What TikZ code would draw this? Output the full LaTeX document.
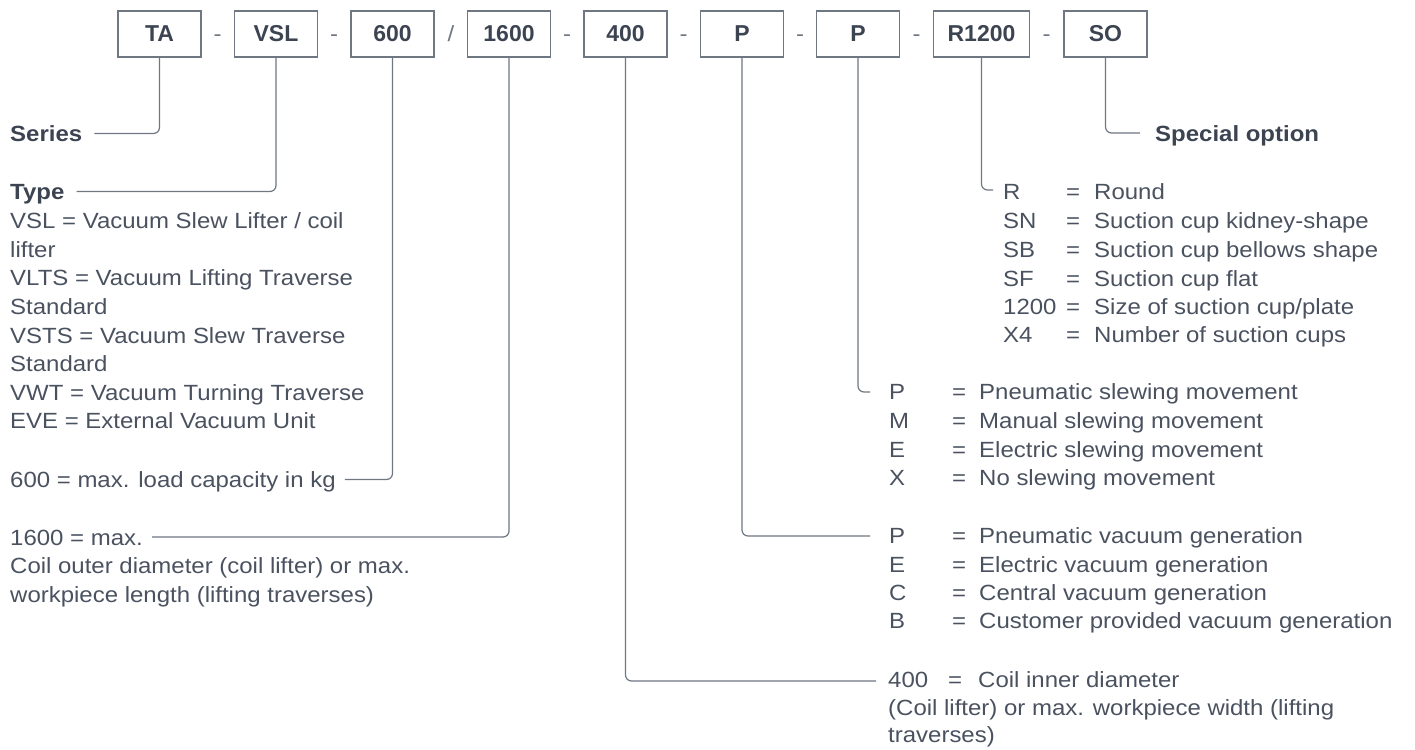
\documentclass[tikz,border=0pt]{standalone}
\usepackage{fontspec}
\setmainfont{Liberation Sans}[FakeStretch=1.09]
\newfontfamily\boxfont{Liberation Sans}
\definecolor{txt}{HTML}{4A5260}
\definecolor{head}{HTML}{3C4452}
\definecolor{lncol}{HTML}{6F7782}
\begin{document}
\begin{tikzpicture}[x=1pt,y=-1pt,
  codebox/.style={draw=lncol,line width=1.3pt,minimum width=83pt,minimum height=46pt,inner sep=0pt,
    font=\boxfont\fontsize{23}{23}\selectfont\bfseries,text=head},
  sep/.style={font=\fontsize{22}{22}\selectfont,text=lncol,inner sep=0pt,anchor=base},
  body/.style={font=\fontsize{22}{22}\selectfont,text=txt,inner sep=0pt,anchor=base west},
  heading/.style={font=\fontsize{22}{22}\selectfont\bfseries,text=head,inner sep=0pt,anchor=base west},
  conn/.style={draw=lncol,line width=1.2pt,rounded corners=6pt}]
\useasboundingbox (0,0) rectangle (1415,749);

% code boxes
\node[codebox] (bta)   at (159.5,34) {TA};
\node[codebox] (bvsl)  at (276,34)   {VSL};
\node[codebox] (bload) at (392.5,34) {600};
\node[codebox] (blen)  at (509,34)   {1600};
\node[codebox] (bwid)  at (625.5,34) {400};
\node[codebox] (bvgen) at (742,34)   {P};
\node[codebox] (bslew) at (858,34)   {P};
\node[codebox,minimum width=96pt] (bcup) at (981.5,34) {R1200};
\node[codebox] (bso)   at (1105.5,34) {SO};

% separators
\node[sep] (s1) at (217.5,42) {-};
\node[sep] (s2) at (334,42) {-};
\node[sep] (s3) at (451,42) {/};
\node[sep] (s4) at (567,42) {-};
\node[sep] (s5) at (683.5,42) {-};
\node[sep] (s6) at (800,42) {-};
\node[sep] (s7) at (916.5,42) {-};
\node[sep] (s8) at (1046.5,42) {-};

% left texts
\node[heading] (series) at (10,142) {Series};
\node[heading] (type) at (10,199) {Type};
\node[body] (t1) at (10,228) {VSL = Vacuum Slew Lifter / coil};
\node[body] (t2) at (10,257) {lifter};
\node[body] (t3) at (10,285) {VLTS = Vacuum Lifting Traverse};
\node[body] (t4) at (10,314) {Standard};
\node[body] (t5) at (10,343) {VSTS = Vacuum Slew Traverse};
\node[body] (t6) at (10,371) {Standard};
\node[body] (t7) at (10,400) {VWT = Vacuum Turning Traverse};
\node[body] (t8) at (10,428) {EVE = External Vacuum Unit};
\node[body] (cap) at (10,487) {600 = max. load capacity in kg};
\node[body] (od1) at (10,545) {1600 = max.};
\node[body] (od2) at (10,573) {Coil outer diameter (coil lifter) or max.};
\node[body] (od3) at (10,602) {workpiece length (lifting traverses)};

% right texts
\node[heading] (special) at (1155,142) {Special option};

\newcommand\coderow[6]{%
  \node[body] (#1c) at (#2,#4) {#5};
  \node[body] (#1e) at (#2+63,#4) {=};
  \node[body] (#1d) at (#3,#4) {#6};}
\coderow{ra}{1003}{1094}{199}{R}{Round}
\coderow{rb}{1003}{1094}{228}{SN}{Suction cup kidney-shape}
\coderow{rc}{1003}{1094}{257}{SB}{Suction cup bellows shape}
\coderow{rd}{1003}{1094}{286}{SF}{Suction cup flat}
\coderow{re}{1003}{1094}{314}{1200}{Size of suction cup/plate}
\coderow{rf}{1003}{1094}{342}{X4}{Number of suction cups}

\coderow{sa}{889}{979}{399}{P}{Pneumatic slewing movement}
\coderow{sb}{889}{979}{428}{M}{Manual slewing movement}
\coderow{sc}{889}{979}{457}{E}{Electric slewing movement}
\coderow{sd}{889}{979}{485}{X}{No slewing movement}

\coderow{va}{889}{979}{543}{P}{Pneumatic vacuum generation}
\coderow{vb}{889}{979}{572}{E}{Electric vacuum generation}
\coderow{vc}{889}{979}{600}{C}{Central vacuum generation}
\coderow{vd}{889}{979}{628}{B}{Customer provided vacuum generation}

\node[body] (wa) at (888,687) {400};
\node[body] (we) at (948,687) {=};
\node[body] (wd) at (978,687) {Coil inner diameter};
\node[body] (wl2) at (888,715) {(Coil lifter) or max. workpiece width (lifting};
\node[body] (wl3) at (888,742) {traverses)};

% connectors
\draw[conn] (bta.south) |- ([xshift=12pt,yshift=8.5pt]series.base east);
\draw[conn] (bvsl.south) |- ([xshift=12pt,yshift=7.5pt]type.base east);
\draw[conn] (bload.south) |- ([xshift=9pt,yshift=7.5pt]cap.base east);
\draw[conn] (blen.south) |- ([xshift=9pt,yshift=8pt]od1.base east);
\draw[conn] (bwid.south) |- ([xshift=-12pt,yshift=6pt]wa.base west);
\draw[conn] (bvgen.south) |- ([xshift=-19pt,yshift=7pt]vac.base west);
\draw[conn] (bslew.south) |- ([xshift=-19pt,yshift=7pt]sac.base west);
\draw[conn] (bcup.south) |- ([xshift=-10pt,yshift=9pt]rac.base west);
\draw[conn] (bso.south) |- ([xshift=-15pt,yshift=9pt]special.base west);
\end{tikzpicture}
\end{document}
